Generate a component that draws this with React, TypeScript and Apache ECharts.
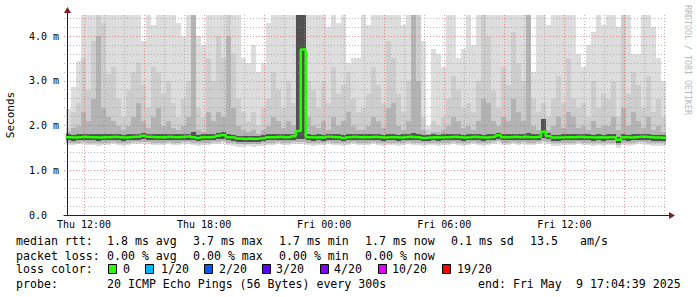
import React, { useEffect, useRef } from 'react';
import * as echarts from 'echarts';

// time in hours relative to Thu 12:00; graph covers Thu 11:04:39 .. Fri 17:04:39
const START_HOUR = -0.9225;
const STEP_HOURS = 0.25;
const AXIS_MIN_HOUR = -1;
const AXIS_MAX_HOUR = 29.0775;
const Y_MAX = 4.47;

const xTickHours = [0, 6, 12, 18, 24];
const xTickLabels = ['Thu 12:00', 'Thu 18:00', 'Fri 00:00', 'Fri 06:00', 'Fri 12:00'];
const yTickValues = [0, 1, 2, 3, 4];
const yTickLabels = ['0.0', '1.0 m', '2.0 m', '3.0 m', '4.0 m'];

// median RTT per 15 min column (ms)
const median = [
  1.74, 1.73, 1.74, 1.75, 1.74, 1.74, 1.73, 1.74, 1.74, 1.75,
  1.74, 1.73, 1.74, 1.75, 1.75, 1.77, 1.75, 1.74, 1.74, 1.74,
  1.75, 1.74, 1.74, 1.75, 1.76, 1.74, 1.72, 1.74, 1.74, 1.75,
  1.77, 1.79, 1.74, 1.73, 1.71, 1.70, 1.71, 1.70, 1.71, 1.72,
  1.74, 1.74, 1.75, 1.74, 1.74, 1.76, 1.88, 3.70, 1.74, 1.73,
  1.74, 1.73, 1.75, 1.74, 1.74, 1.72, 1.74, 1.75, 1.74, 1.74,
  1.74, 1.75, 1.74, 1.73, 1.74, 1.74, 1.73, 1.74, 1.75, 1.74,
  1.74, 1.72, 1.73, 1.74, 1.73, 1.74, 1.74, 1.75, 1.74, 1.73,
  1.74, 1.75, 1.74, 1.73, 1.74, 1.75, 1.78, 1.74, 1.74, 1.75,
  1.74, 1.75, 1.74, 1.74, 1.75, 1.86, 1.76, 1.73, 1.73, 1.74,
  1.74, 1.74, 1.75, 1.74, 1.74, 1.73, 1.74, 1.73, 1.74, 1.74,
  1.68, 1.74, 1.73, 1.74, 1.75, 1.75, 1.74, 1.73, 1.73, 1.72,
];

// slowest ping (top of the lightest smoke); 4.6 = beyond the top of the plot
const smokeMax = [
  2.37, 2.86, 3.45, 4.6, 4.6, 4.6, 4.6, 4.6, 4.6, 4.6,
  4.6, 4.6, 4.6, 4.6, 4.6, 3.9, 4.6, 4.25, 4.6, 4.6,
  4.6, 4.6, 4.3, 4.0, 4.6, 4.6, 4.0, 3.8, 4.6, 4.6,
  4.6, 4.6, 4.6, 4.6, 4.6, 3.5, 3.4, 3.8, 3.2, 3.4,
  4.3, 4.6, 4.6, 4.6, 4.6, 4.6, 4.6, 4.6, 4.6, 4.6,
  4.6, 4.6, 4.2, 4.6, 4.3, 4.6, 3.4, 3.5, 3.5, 4.6,
  4.25, 4.6, 4.6, 4.6, 4.6, 4.6, 4.6, 4.25, 4.6, 4.6,
  4.6, 3.9, 2.0, 3.7, 3.6, 3.3, 4.6, 4.6, 3.5, 3.7,
  4.6, 3.8, 4.6, 4.6, 4.6, 4.6, 4.6, 4.6, 4.6, 4.6,
  4.6, 4.6, 4.6, 3.2, 4.6, 4.6, 4.25, 4.6, 4.6, 4.6,
  4.6, 4.6, 3.6, 3.3, 3.8, 4.1, 4.6, 4.25, 4.6, 4.6,
  4.2, 4.6, 4.6, 3.6, 3.6, 4.6, 4.6, 4.2, 3.5, 3.0,
];

// second smoke layer top
const smoke2 = [
  1.95, 2.3, 2.5, 3.5, 2.8, 3.9, 4.6, 4.3, 3.15, 3.3,
  2.6, 2.2, 2.8, 3.2, 3.4, 2.9, 2.4, 3.3, 3.2, 2.7,
  3.0, 2.5, 2.2, 2.6, 3.0, 4.6, 2.4, 2.2, 3.5, 3.0,
  4.0, 3.5, 4.6, 3.6, 2.6, 2.3, 2.1, 2.3, 2.0, 2.4,
  2.6, 3.2, 2.8, 2.4, 3.0, 2.5, 4.6, 4.6, 3.0, 2.8,
  2.4, 3.0, 2.5, 3.3, 2.7, 2.9, 3.2, 2.6, 2.3, 2.4,
  2.7, 3.3, 2.9, 2.5, 3.9, 3.5, 2.7, 2.3, 3.0, 4.6,
  4.6, 2.2, 1.9, 2.1, 2.0, 2.2, 2.6, 3.1, 2.8, 2.4,
  2.5, 2.3, 3.0, 4.6, 4.0, 2.8, 2.4, 3.3, 2.9, 4.1,
  3.4, 3.0, 4.6, 2.6, 2.3, 2.5, 2.2, 2.6, 3.1, 2.5,
  3.5, 2.6, 2.4, 2.5, 2.2, 3.0, 2.4, 2.7, 2.6, 3.0,
  2.2, 4.6, 2.7, 3.2, 2.9, 2.4, 3.1, 2.3, 2.6, 2.2,
];

// third smoke layer top
const smoke3 = [
  1.85, 1.95, 2.0, 2.3, 2.1, 2.6, 4.0, 2.4, 2.2, 2.1,
  2.0, 1.9, 2.0, 2.2, 2.5, 2.1, 1.95, 2.2, 2.4, 2.0,
  2.1, 1.95, 1.9, 2.0, 2.2, 4.6, 1.9, 1.85, 2.3, 2.1,
  2.3, 2.2, 4.0, 2.4, 2.0, 1.9, 1.85, 1.9, 1.8, 1.9,
  2.0, 2.2, 2.1, 1.95, 2.1, 2.0, 4.6, 4.6, 2.2, 2.0,
  1.95, 2.1, 1.9, 2.2, 2.0, 2.1, 2.3, 2.0, 1.9, 1.9,
  2.0, 2.2, 2.1, 1.95, 2.4, 2.5, 2.0, 1.9, 2.1, 4.6,
  3.0, 1.9, 1.8, 1.85, 1.85, 1.9, 2.0, 2.2, 2.1, 1.95,
  2.0, 1.9, 2.1, 2.6, 2.5, 2.1, 2.0, 2.2, 2.1, 2.6,
  2.3, 2.1, 4.6, 2.0, 1.9, 2.1, 1.9, 2.0, 2.2, 1.95,
  2.3, 2.2, 1.95, 2.0, 1.9, 2.1, 1.95, 2.0, 2.0, 2.2,
  1.9, 2.4, 2.0, 2.3, 2.1, 1.95, 2.2, 1.9, 2.0, 1.85,
];

// dark core around the median: top and bottom
const coreHigh = [
  1.80, 1.79, 1.81, 1.80, 1.80, 1.81, 1.82, 1.80, 1.80, 1.81,
  1.80, 1.79, 1.80, 1.81, 1.81, 1.83, 1.81, 1.80, 1.80, 1.80,
  1.81, 1.80, 1.80, 1.81, 1.82, 1.86, 1.78, 1.80, 1.80, 1.81,
  1.83, 1.86, 1.80, 1.79, 1.77, 1.76, 1.77, 1.76, 1.77, 1.78,
  1.80, 1.80, 1.81, 1.80, 1.80, 1.82, 4.6, 4.6, 1.80, 1.79,
  1.80, 1.79, 1.81, 1.80, 1.80, 1.78, 1.80, 1.81, 1.80, 1.80,
  1.80, 1.81, 1.80, 1.79, 1.80, 1.80, 1.79, 1.80, 1.81, 1.84,
  1.80, 1.78, 1.79, 1.80, 1.79, 1.80, 1.80, 1.81, 1.80, 1.79,
  1.80, 1.81, 1.80, 1.79, 1.80, 1.81, 1.84, 1.80, 1.80, 1.81,
  1.80, 1.81, 1.83, 1.80, 1.81, 2.15, 1.83, 1.79, 1.79, 1.80,
  1.80, 1.80, 1.81, 1.80, 1.80, 1.79, 1.80, 1.79, 1.80, 1.80,
  1.74, 1.80, 1.79, 1.80, 1.81, 1.81, 1.80, 1.79, 1.79, 1.78,
];

const coreLow = [
  1.67, 1.66, 1.67, 1.68, 1.67, 1.67, 1.66, 1.67, 1.67, 1.68,
  1.67, 1.66, 1.67, 1.68, 1.68, 1.69, 1.68, 1.67, 1.67, 1.67,
  1.68, 1.67, 1.67, 1.68, 1.68, 1.67, 1.65, 1.67, 1.67, 1.68,
  1.69, 1.70, 1.67, 1.66, 1.64, 1.63, 1.64, 1.63, 1.64, 1.65,
  1.67, 1.67, 1.68, 1.67, 1.67, 1.68, 1.70, 1.70, 1.67, 1.66,
  1.67, 1.66, 1.68, 1.67, 1.67, 1.65, 1.67, 1.68, 1.67, 1.67,
  1.67, 1.68, 1.67, 1.66, 1.67, 1.67, 1.66, 1.67, 1.68, 1.67,
  1.67, 1.65, 1.66, 1.67, 1.66, 1.67, 1.67, 1.68, 1.67, 1.66,
  1.67, 1.68, 1.67, 1.66, 1.67, 1.68, 1.70, 1.67, 1.67, 1.68,
  1.67, 1.68, 1.67, 1.67, 1.68, 1.72, 1.69, 1.66, 1.66, 1.67,
  1.67, 1.67, 1.68, 1.67, 1.67, 1.66, 1.67, 1.66, 1.67, 1.67,
  1.60, 1.67, 1.66, 1.67, 1.68, 1.68, 1.67, 1.66, 1.66, 1.65,
];

// bottom of the inner smoke layers
const innerLow = [
  1.62, 1.61, 1.62, 1.63, 1.62, 1.62, 1.61, 1.62, 1.62, 1.63,
  1.62, 1.61, 1.62, 1.63, 1.63, 1.64, 1.63, 1.62, 1.62, 1.62,
  1.63, 1.62, 1.62, 1.63, 1.63, 1.62, 1.60, 1.62, 1.62, 1.63,
  1.64, 1.65, 1.62, 1.61, 1.59, 1.58, 1.59, 1.58, 1.59, 1.60,
  1.62, 1.62, 1.63, 1.62, 1.62, 1.63, 1.64, 1.64, 1.62, 1.61,
  1.62, 1.61, 1.63, 1.62, 1.62, 1.60, 1.62, 1.63, 1.62, 1.62,
  1.62, 1.63, 1.62, 1.61, 1.62, 1.62, 1.61, 1.62, 1.63, 1.62,
  1.62, 1.60, 1.61, 1.62, 1.61, 1.62, 1.62, 1.63, 1.62, 1.61,
  1.62, 1.63, 1.62, 1.61, 1.62, 1.63, 1.65, 1.62, 1.62, 1.63,
  1.62, 1.63, 1.62, 1.62, 1.63, 1.66, 1.64, 1.61, 1.61, 1.62,
  1.62, 1.62, 1.63, 1.62, 1.62, 1.61, 1.62, 1.61, 1.62, 1.62,
  1.56, 1.62, 1.61, 1.62, 1.63, 1.63, 1.62, 1.61, 1.61, 1.60,
];

// fastest ping (bottom of the lightest smoke)
const smokeMin = [
  1.57, 1.56, 1.58, 1.58, 1.57, 1.57, 1.55, 1.57, 1.56, 1.58,
  1.57, 1.55, 1.57, 1.58, 1.58, 1.59, 1.58, 1.57, 1.56, 1.57,
  1.58, 1.57, 1.56, 1.58, 1.58, 1.56, 1.54, 1.57, 1.57, 1.58,
  1.59, 1.60, 1.56, 1.55, 1.53, 1.52, 1.54, 1.53, 1.54, 1.55,
  1.57, 1.57, 1.58, 1.57, 1.56, 1.58, 1.59, 1.58, 1.56, 1.55,
  1.57, 1.56, 1.58, 1.57, 1.57, 1.54, 1.57, 1.58, 1.57, 1.56,
  1.57, 1.58, 1.57, 1.55, 1.57, 1.57, 1.55, 1.57, 1.58, 1.56,
  1.57, 1.54, 1.56, 1.57, 1.55, 1.57, 1.57, 1.58, 1.57, 1.55,
  1.57, 1.58, 1.57, 1.55, 1.57, 1.58, 1.60, 1.56, 1.57, 1.58,
  1.57, 1.58, 1.56, 1.57, 1.58, 1.61, 1.59, 1.55, 1.55, 1.57,
  1.57, 1.56, 1.58, 1.57, 1.56, 1.55, 1.57, 1.55, 1.57, 1.57,
  1.50, 1.57, 1.55, 1.57, 1.58, 1.58, 1.57, 1.55, 1.55, 1.54,
];

// legend texts
const statLabels = ['median rtt:', 'packet loss:', 'loss color:', 'probe:'];
const rttStats = ['1.8 ms avg', '3.7 ms max', '1.7 ms min', '1.7 ms now', '0.1 ms sd', '13.5', 'am/s'];
const lossStats = ['0.00 % avg', '0.00 % max', '0.00 % min', '0.00 % now'];
const lossNames = ['0', '1/20', '2/20', '3/20', '4/20', '10/20', '19/20'];
const lossColors = ['#26ff00', '#00b8ff', '#0059ff', '#5e00ff', '#7e00ff', '#dd00ff', '#ff0000'];
const probeText = '20 ICMP Echo Pings (56 Bytes) every 300s';
const endTextA = 'end: Fri May';
const endTextB = '9 17:04:39 2025';
const watermark = 'RRDTOOL / TOBI OETIKER';

const MONO = '"DejaVu Sans Mono", monospace';
const GRID_GRAY = 'rgba(143,143,143,0.6)';
const GRID_RED = 'rgba(222,79,79,0.6)';

function layerSeries(lows: number[], highs: number[], color: string) {
  const data = lows.map((lo, k) => [
    START_HOUR + k * STEP_HOURS,
    START_HOUR + (k + 1) * STEP_HOURS,
    lo,
    highs[k],
  ]);
  return {
    type: 'custom',
    z: -1,
    silent: true,
    clip: true,
    encode: { x: [0, 1], y: [2, 3] },
    renderItem: (_params: any, api: any) => {
      const lo = api.value(2);
      const hi = Math.min(api.value(3), Y_MAX);
      if (hi <= lo) return null;
      const a = api.coord([api.value(0), hi]);
      const b = api.coord([api.value(1), lo]);
      const left = Math.round(a[0]);
      const right = Math.round(b[0]);
      const top = Math.round(a[1]);
      const bottom = Math.round(b[1]);
      if (bottom - top <= 0) return null;
      return {
        type: 'rect',
        shape: { x: left, y: top, width: right - left, height: bottom - top },
        style: { fill: color },
      };
    },
    data,
  };
}

export default function App() {
  const ref = useRef<HTMLDivElement>(null);

  useEffect(() => {
    if (!ref.current) return;
    const chart = echarts.init(ref.current, undefined, { renderer: 'svg' });

    const medianData = median.map((m, k) => [START_HOUR + k * STEP_HOURS, m]);
    medianData.push([START_HOUR + median.length * STEP_HOURS, median[median.length - 1]]);

    const textStyle = (text: string, size = 11.6) => ({
      text,
      fill: '#000',
      fontSize: size,
      fontFamily: MONO,
      verticalAlign: 'middle',
      align: 'left',
    });

    const rttX = [107, 193, 279, 365, 451, 530, 580];
    const lossX = [107, 193, 279, 365];
    const boxX = [108, 145, 204, 262, 320, 378, 442];
    const boxLabelX = [123, 161, 219, 276, 334, 392, 457];
    const rowY = [241, 256, 269, 284];

    const graphics: any[] = [];
    statLabels.forEach((t, i) => graphics.push({ type: 'text', x: 16, y: rowY[i], style: textStyle(t) }));
    rttStats.forEach((t, i) => graphics.push({ type: 'text', x: rttX[i], y: rowY[0], style: textStyle(t) }));
    lossStats.forEach((t, i) => graphics.push({ type: 'text', x: lossX[i], y: rowY[1], style: textStyle(t) }));
    lossNames.forEach((t, i) => {
      graphics.push({
        type: 'rect',
        shape: { x: boxX[i] + 0.5, y: rowY[2] - 4.5, width: 8, height: 9 },
        style: { fill: lossColors[i], stroke: '#000', lineWidth: 1 },
      });
      graphics.push({ type: 'text', x: boxLabelX[i], y: rowY[2], style: textStyle(t) });
    });
    graphics.push({ type: 'text', x: 107, y: rowY[3], style: textStyle(probeText) });
    graphics.push({ type: 'text', x: 478, y: rowY[3], style: textStyle(endTextA) });
    graphics.push({ type: 'text', x: 576, y: rowY[3], style: textStyle(endTextB) });
    graphics.push({
      type: 'text',
      x: 688,
      y: 60,
      rotation: -Math.PI / 2,
      style: { text: watermark, fill: '#b8b8b8', fontSize: 8.3, fontFamily: MONO, align: 'center', verticalAlign: 'middle' },
    });
    // axis extensions and arrows
    graphics.push({ type: 'line', shape: { x1: 67.5, y1: 12, x2: 67.5, y2: 15 }, style: { stroke: '#1f1f1f', lineWidth: 1 } });
    graphics.push({ type: 'polygon', shape: { points: [[64, 13], [71, 13], [67.5, 7]] }, style: { fill: '#7f1f1f' } });
    graphics.push({ type: 'line', shape: { x1: 666, y1: 215.5, x2: 670, y2: 215.5 }, style: { stroke: '#1f1f1f', lineWidth: 1 } });
    graphics.push({ type: 'polygon', shape: { points: [[669, 212], [669, 219], [675, 215.5]] }, style: { fill: '#7f1f1f' } });

    chart.setOption({
      animation: false,
      backgroundColor: '#ffffff',
      grid: { left: 64, right: 31, top: 15, bottom: 82, containLabel: false, outerBoundsMode: 'none' },
      xAxis: {
        type: 'value',
        min: AXIS_MIN_HOUR,
        max: AXIS_MAX_HOUR,
        interval: 1,
        axisLine: { show: true, onZero: false, lineStyle: { color: '#1f1f1f', width: 1 } },
        axisTick: { show: false },
        axisLabel: {
          color: '#000',
          fontFamily: MONO,
          fontSize: 10,
          margin: 4,
          formatter: (v: number) => {
            const i = xTickHours.findIndex((h) => Math.abs(h - v) < 1e-6);
            return i >= 0 ? xTickLabels[i] : '';
          },
        },
        splitLine: {
          show: true,
          showMinLine: false,
          showMaxLine: false,
          lineStyle: { color: [GRID_RED, GRID_GRAY, GRID_GRAY], type: [1, 2], width: 1 },
        },
      },
      yAxis: {
        type: 'value',
        min: 0,
        max: Y_MAX,
        interval: 0.2,
        offset: -3,
        name: 'Seconds',
        nameLocation: 'middle',
        nameGap: 51,
        nameRotate: 90,
        nameTextStyle: { color: '#000', fontFamily: MONO, fontSize: 11 },
        axisLine: { show: true, onZero: false, lineStyle: { color: '#1f1f1f', width: 1 } },
        axisTick: { show: false },
        axisLabel: {
          color: '#000',
          fontFamily: MONO,
          fontSize: 10,
          align: 'left',
          margin: 38,
          formatter: (v: number) => {
            const i = yTickValues.findIndex((t) => Math.abs(t - v) < 1e-6);
            return i >= 0 ? yTickLabels[i] : '';
          },
        },
        splitLine: {
          show: true,
          showMaxLine: false,
          lineStyle: { color: [GRID_RED, GRID_GRAY, GRID_GRAY, GRID_GRAY, GRID_GRAY], type: [1, 2], width: 1 },
        },
      },
      series: [
        layerSeries(smokeMin, smokeMax, '#dddddd'),
        layerSeries(innerLow, smoke2, '#cdcdcd'),
        layerSeries(innerLow, smoke3, '#b3b3b3'),
        layerSeries(coreLow, coreHigh, '#505050'),
        {
          type: 'line',
          z: 5,
          step: 'end',
          showSymbol: false,
          silent: true,
          clip: true,
          lineStyle: { color: '#26ff00', width: 2.5 },
          data: medianData,
        },
      ],
      graphic: graphics,
    });

    return () => chart.dispose();
  }, []);

  return (
    <div
      ref={ref}
      style={{ position: 'absolute', left: 0, top: 0, width: 697, height: 297, background: '#fff' }}
    />
  );
}
